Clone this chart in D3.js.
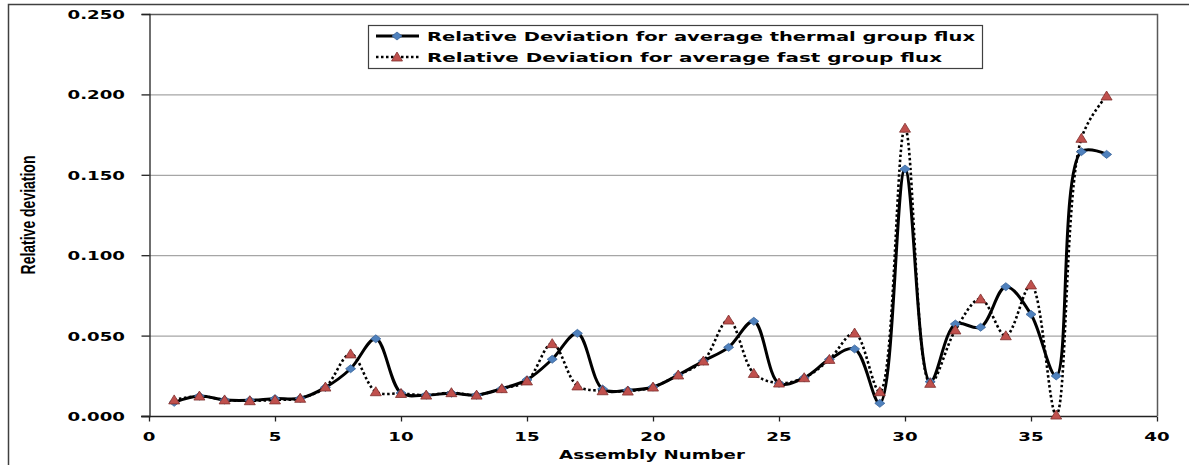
<!doctype html>
<html lang="en">
<head>
<meta charset="utf-8">
<title>Relative deviation by assembly</title>
<script src="https://d3js.org/d3.v7.min.js"></script>
<style>
  body { margin: 0; background: #fff; }
  text { font-family: "DejaVu Sans", Verdana, sans-serif; font-weight: bold; fill: #000; }
</style>
</head>
<body>
<svg id="chart"></svg>
<script>
// data
const assembly = [1, 2, 3, 4, 5, 6, 7, 8, 9, 10, 11, 12, 13, 14, 15, 16, 17, 18, 19,
  20, 21, 22, 23, 24, 25, 26, 27, 28, 29, 30, 31, 32, 33, 34, 35, 36, 37, 38];
const thermal = [0.0085, 0.0124, 0.0100, 0.0098, 0.0108, 0.0110, 0.0178, 0.0294, 0.0480, 0.0143,
  0.0130, 0.0142, 0.0130, 0.0170, 0.0225, 0.0353, 0.0514, 0.0168, 0.0160, 0.0180,
  0.0255, 0.0342, 0.0427, 0.0589, 0.0203, 0.0238, 0.0352, 0.0417, 0.0079, 0.1536,
  0.0213, 0.0572, 0.0552, 0.0804, 0.0632, 0.0249, 0.1644, 0.1627];
const fast = [0.0100, 0.0124, 0.0100, 0.0095, 0.0100, 0.0110, 0.0180, 0.0386, 0.0151, 0.0140,
  0.0130, 0.0145, 0.0130, 0.0170, 0.0218, 0.0450, 0.0187, 0.0157, 0.0155, 0.0180,
  0.0255, 0.0342, 0.0597, 0.0265, 0.0205, 0.0238, 0.0352, 0.0516, 0.0151, 0.1790,
  0.0203, 0.0535, 0.0728, 0.0499, 0.0815, 0.0006, 0.1727, 0.1990];
const xTicks = [0, 5, 10, 15, 20, 25, 30, 35, 40];
const yTicks = [0, 0.05, 0.10, 0.15, 0.20, 0.25];
const seriesNames = ["Relative Deviation for average thermal group flux",
  "Relative Deviation for average fast group flux"];

const W = 1189, H = 465;
const stretch = 1.4; // the picture is widened, text looks stretched

const svg = d3.select("#chart").attr("width", W).attr("height", H);
svg.append("rect").attr("width", W).attr("height", H).attr("fill", "#fff");

const x = d3.scaleLinear().domain([0, 40]).range([149, 1157]);
const y = d3.scaleLinear().domain([0, 0.25]).range([416, 14]);

// outer frame (only top and left show)
svg.append("path")
  .attr("d", `M8.5,${H} V4.5 H${W}`)
  .attr("fill", "none").attr("stroke", "#404040").attr("stroke-width", 1.5);

// gridlines
svg.append("g").selectAll("line")
  .data(yTicks.filter(d => d > 0 && d < 0.25))
  .enter().append("line")
  .attr("x1", x(0)).attr("x2", x(40))
  .attr("y1", d => y(d) + 0.5).attr("y2", d => y(d) + 0.5)
  .attr("stroke", "#a6a6a6").attr("stroke-width", 1.2);

// plot top + right border
svg.append("path")
  .attr("d", `M${x(0)},${y(0.25) + 0.5} H${x(40) + 0.5} V${y(0)}`)
  .attr("fill", "none").attr("stroke", "#595959").attr("stroke-width", 1.5);

// axes
const yAxis = svg.append("g").attr("transform", `translate(${x(0) + 0.5},0)`)
  .call(d3.axisLeft(y).tickValues(yTicks).tickSize(8).tickFormat(() => ""));
const xAxis = svg.append("g").attr("transform", `translate(0,${y(0) + 0.5})`)
  .call(d3.axisBottom(x).tickValues(xTicks).tickSize(5).tickFormat(() => ""));
[yAxis, xAxis].forEach(a => {
  a.select(".domain").attr("stroke", "#222").attr("stroke-width", 1.3);
  a.selectAll(".tick line").attr("stroke", "#222").attr("stroke-width", 1.3);
});
xAxis.select(".domain").attr("d", `M141,0H${x(40)}`);

// tick labels, stretched like the picture
svg.append("g").selectAll("text")
  .data(yTicks).enter().append("text")
  .attr("transform", d => `translate(125,${y(d) + 5}) scale(${stretch},1)`)
  .attr("text-anchor", "end").attr("font-size", 13)
  .text(d3.format(".3f"));
svg.append("g").selectAll("text")
  .data(xTicks).enter().append("text")
  .attr("transform", d => `translate(${x(d)},441) scale(${stretch},1)`)
  .attr("text-anchor", "middle").attr("font-size", 13)
  .text(d => d);

// axis titles
svg.append("text")
  .attr("transform", `translate(652,459) scale(${stretch},1)`)
  .attr("text-anchor", "middle").attr("font-size", 13)
  .text("Assembly Number");
svg.append("text")
  .attr("transform", `translate(35,215) scale(${stretch},1) rotate(-90)`)
  .attr("text-anchor", "middle").attr("font-size", 14)
  .style("font-family", "'Liberation Sans Narrow', 'Liberation Sans', sans-serif")
  .text("Relative deviation");

// smoothed lines
const line = d3.line().curve(d3.curveCatmullRom.alpha(0.5))
  .x(d => x(d[0])).y(d => y(d[1]));
const thermalPts = assembly.map((a, i) => [a, thermal[i]]);
const fastPts = assembly.map((a, i) => [a, fast[i]]);

svg.append("path").datum(thermalPts).attr("d", line)
  .attr("fill", "none").attr("stroke", "#000").attr("stroke-width", 3);
svg.append("path").datum(fastPts).attr("d", line)
  .attr("fill", "none").attr("stroke", "#000").attr("stroke-width", 2.6)
  .attr("stroke-dasharray", "2.5,2.5");

// markers
const diamond = "M0,-4L5,0L0,4L-5,0Z";
const triangle = "M0,-5L5.5,4L-5.5,4Z";
svg.append("g").selectAll("path").data(thermalPts).enter().append("path")
  .attr("transform", d => `translate(${x(d[0])},${y(d[1])})`)
  .attr("d", diamond).attr("fill", "#4f81bd").attr("stroke", "#3a659a").attr("stroke-width", 0.8);
svg.append("g").selectAll("path").data(fastPts).enter().append("path")
  .attr("transform", d => `translate(${x(d[0])},${y(d[1])})`)
  .attr("d", triangle).attr("fill", "#c0504d").attr("stroke", "#7f2f2c").attr("stroke-width", 0.8);

// legend
const lg = svg.append("g");
lg.append("rect").attr("x", 368.5).attr("y", 25.5).attr("width", 614).attr("height", 43)
  .attr("fill", "#fff").attr("stroke", "#404040").attr("stroke-width", 1.2);
const rows = [
  { name: seriesNames[0], dash: null, w: 3, mark: diamond, fill: "#4f81bd", stroke: "#3a659a", len: 548 },
  { name: seriesNames[1], dash: "2.5,2.5", w: 2.6, mark: triangle, fill: "#c0504d", stroke: "#7f2f2c", len: 515 }
];
rows.forEach((r, i) => {
  const cy = 36 + i * 21;
  lg.append("line").attr("x1", 376).attr("x2", 419).attr("y1", cy).attr("y2", cy)
    .attr("stroke", "#000").attr("stroke-width", r.w).attr("stroke-dasharray", r.dash);
  lg.append("path").attr("transform", `translate(397,${cy})`).attr("d", r.mark)
    .attr("fill", r.fill).attr("stroke", r.stroke).attr("stroke-width", 0.8);
  lg.append("text").attr("x", 427).attr("y", cy + 5).attr("font-size", 13)
    .attr("textLength", r.len).attr("lengthAdjust", "spacingAndGlyphs")
    .text(r.name);
});
</script>
</body>
</html>
